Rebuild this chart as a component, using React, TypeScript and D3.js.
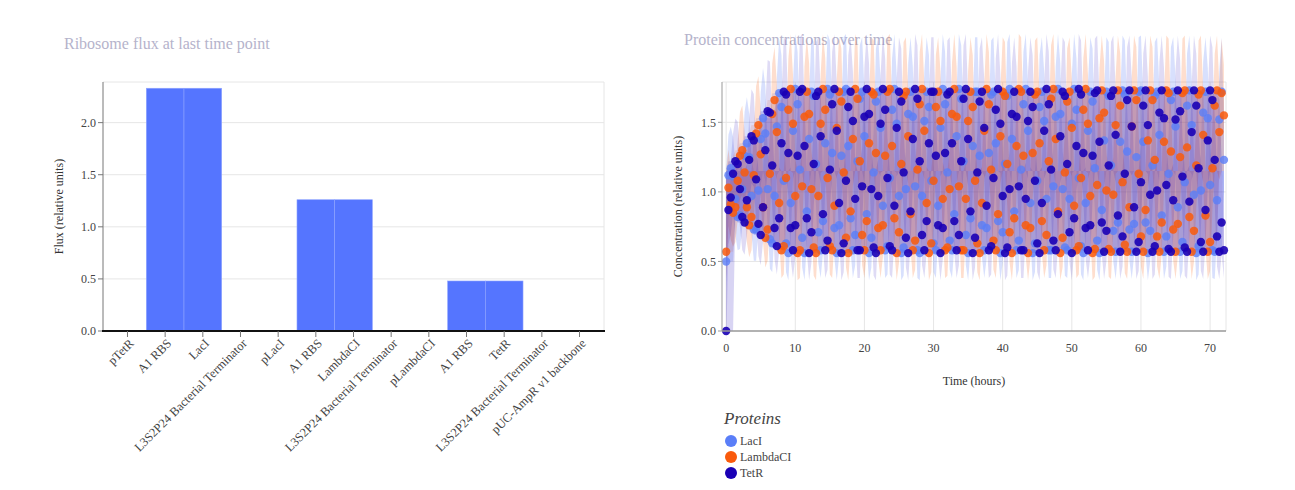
import React from "react";
import * as d3 from "d3";

// left panel: ribosome flux per part
const partLabels = [
  "pTetR",
  "A1 RBS",
  "LacI",
  "L3S2P24 Bacterial Terminator",
  "pLacI",
  "A1 RBS",
  "LambdaCI",
  "L3S2P24 Bacterial Terminator",
  "pLambdaCI",
  "A1 RBS",
  "TetR",
  "L3S2P24 Bacterial Terminator",
  "pUC-AmpR v1 backbone",
];
const fluxValues = [0, 2.33, 2.33, 0, 0, 1.26, 1.26, 0, 0, 0.48, 0.48, 0, 0];
const fluxTicks = [0, 0.5, 1, 1.5, 2];

// right panel: protein concentrations, one sample every 20 min from 0 to 72 h
const timeStep = 1 / 3;
const lacI = [
  0.5, 1.12, 1.17, 1.11, 0.95, 0.82, 0.83, 1.02, 1.26, 1.35, 1.25, 0.97, 0.73, 0.73, 1.01, 1.38,
  1.53, 1.42, 1.02, 0.66, 0.63, 0.97, 1.47, 1.71, 1.61, 1.08, 0.63, 0.56, 0.92, 1.44, 1.74, 1.63,
  1.16, 0.67, 0.56, 0.86, 1.38, 1.72, 1.69, 1.2, 0.71, 0.58, 0.79, 1.35, 1.74, 1.7, 1.28, 0.74,
  0.56, 0.76, 1.26, 1.72, 1.74, 1.33, 0.81, 0.58, 0.69, 1.22, 1.67, 1.72, 1.4, 0.84, 0.56, 0.67,
  1.14, 1.65, 1.72, 1.46, 0.9, 0.58, 0.61, 1.1, 1.59, 1.74, 1.49, 0.97, 0.56, 0.6, 1.02, 1.56,
  1.72, 1.54, 1.04, 0.58, 0.56, 0.97, 1.51, 1.72, 1.61, 1.08, 0.63, 0.58, 0.9, 1.46, 1.74, 1.63,
  1.14, 0.65, 0.58, 0.84, 1.4, 1.74, 1.67, 1.22, 0.69, 0.56, 0.81, 1.33, 1.72, 1.72, 1.26, 0.76,
  0.58, 0.74, 1.28, 1.7, 1.72, 1.35, 0.79, 0.56, 0.71, 1.2, 1.69, 1.74, 1.38, 0.86, 0.58, 0.65,
  1.16, 1.63, 1.74, 1.44, 0.92, 0.56, 0.63, 1.08, 1.61, 1.72, 1.51, 0.95, 0.58, 0.58, 1.04, 1.54,
  1.74, 1.56, 1.02, 0.6, 0.58, 0.95, 1.49, 1.74, 1.59, 1.1, 0.61, 0.56, 0.92, 1.44, 1.72, 1.65,
  1.17, 0.65, 0.56, 0.87, 1.37, 1.72, 1.69, 1.19, 0.72, 0.57, 0.78, 1.36, 1.73, 1.7, 1.29, 0.73,
  0.57, 0.77, 1.25, 1.72, 1.73, 1.36, 0.78, 0.56, 0.72, 1.19, 1.69, 1.72, 1.41, 0.83, 0.57, 0.68,
  1.13, 1.66, 1.72, 1.47, 0.89, 0.57, 0.64, 1.07, 1.62, 1.73, 1.48, 0.98, 0.56, 0.61, 1.01, 1.57,
  1.72, 1.53, 1.05, 0.58, 0.57, 0.94, 1.52, 1.72, 1.23,
];
const lambdaCI = [
  0.57, 1.03, 0.91, 0.85, 0.89, 1.08, 1.26, 1.3, 1.14, 0.89, 0.76, 0.82, 1.12, 1.42, 1.48, 1.27,
  0.89, 0.67, 0.73, 1.13, 1.56, 1.66, 1.43, 0.92, 0.58, 0.61, 1.1, 1.59, 1.74, 1.49, 0.97, 0.56,
  0.58, 1.04, 1.54, 1.72, 1.56, 1.02, 0.6, 0.56, 0.97, 1.49, 1.74, 1.59, 1.1, 0.61, 0.58, 0.9,
  1.46, 1.72, 1.65, 1.14, 0.67, 0.56, 0.86, 1.38, 1.74, 1.67, 1.22, 0.69, 0.58, 0.79, 1.35, 1.72,
  1.7, 1.28, 0.74, 0.58, 0.76, 1.26, 1.72, 1.74, 1.33, 0.81, 0.56, 0.71, 1.2, 1.69, 1.72, 1.4,
  0.84, 0.58, 0.65, 1.16, 1.63, 1.74, 1.44, 0.92, 0.56, 0.63, 1.08, 1.61, 1.72, 1.51, 0.95, 0.58,
  0.6, 1.02, 1.56, 1.74, 1.54, 1.04, 0.58, 0.58, 0.95, 1.51, 1.72, 1.61, 1.08, 0.63, 0.56, 0.92,
  1.44, 1.74, 1.63, 1.16, 0.65, 0.58, 0.84, 1.4, 1.72, 1.69, 1.2, 0.71, 0.56, 0.81, 1.33, 1.74,
  1.72, 1.26, 0.76, 0.56, 0.74, 1.28, 1.7, 1.72, 1.35, 0.79, 0.58, 0.69, 1.22, 1.67, 1.74, 1.38,
  0.86, 0.56, 0.67, 1.14, 1.65, 1.72, 1.46, 0.9, 0.58, 0.61, 1.1, 1.59, 1.74, 1.49, 0.97, 0.56,
  0.59, 1.05, 1.53, 1.73, 1.57, 1.01, 0.59, 0.57, 0.98, 1.48, 1.73, 1.62, 1.07, 0.62, 0.57, 0.89,
  1.47, 1.73, 1.66, 1.13, 0.68, 0.57, 0.87, 1.37, 1.73, 1.66, 1.23, 0.68, 0.57, 0.78, 1.36, 1.73,
  1.71, 1.29, 0.73, 0.57, 0.77, 1.25, 1.71, 1.73, 1.32, 0.82, 0.57, 0.72, 1.19, 1.7, 1.73, 1.41,
  0.83, 0.57, 0.64, 1.17, 1.62, 1.73, 1.43, 1.71, 1.55,
];
const tetR = [
  0, 0.87, 0.96, 1.13, 1.22, 1.2, 1.02, 0.82, 0.78, 0.94, 1.23, 1.4, 1.37, 1.09, 0.77, 0.69,
  0.89, 1.3, 1.58, 1.57, 1.19, 0.74, 0.61, 0.81, 1.35, 1.72, 1.7, 1.28, 0.74, 0.58, 0.76, 1.26,
  1.72, 1.74, 1.33, 0.81, 0.56, 0.71, 1.2, 1.69, 1.72, 1.4, 0.84, 0.58, 0.65, 1.16, 1.63, 1.74,
  1.44, 0.92, 0.56, 0.63, 1.08, 1.61, 1.72, 1.51, 0.95, 0.58, 0.58, 1.04, 1.54, 1.74, 1.56, 1.02,
  0.6, 0.56, 0.97, 1.49, 1.74, 1.59, 1.1, 0.61, 0.58, 0.9, 1.46, 1.72, 1.65, 1.14, 0.67, 0.56,
  0.86, 1.38, 1.74, 1.67, 1.22, 0.69, 0.58, 0.79, 1.35, 1.72, 1.72, 1.26, 0.76, 0.56, 0.74, 1.28,
  1.7, 1.72, 1.35, 0.79, 0.58, 0.69, 1.22, 1.67, 1.74, 1.38, 0.86, 0.56, 0.67, 1.14, 1.65, 1.72,
  1.46, 0.9, 0.58, 0.61, 1.1, 1.59, 1.74, 1.49, 0.97, 0.56, 0.6, 1.02, 1.56, 1.72, 1.54, 1.04,
  0.58, 0.58, 0.95, 1.51, 1.72, 1.61, 1.08, 0.63, 0.56, 0.92, 1.44, 1.74, 1.63, 1.16, 0.65, 0.58,
  0.84, 1.4, 1.72, 1.69, 1.2, 0.71, 0.56, 0.81, 1.33, 1.74, 1.7, 1.28, 0.74, 0.58, 0.76, 1.26,
  1.71, 1.73, 1.36, 0.78, 0.57, 0.72, 1.19, 1.69, 1.73, 1.41, 0.83, 0.57, 0.68, 1.13, 1.66, 1.73,
  1.47, 0.89, 0.57, 0.64, 1.07, 1.62, 1.73, 1.48, 0.98, 0.57, 0.61, 1.01, 1.57, 1.73, 1.53, 1.05,
  0.59, 0.57, 0.94, 1.52, 1.73, 1.58, 1.11, 0.6, 0.57, 0.93, 1.43, 1.73, 1.62, 1.17, 0.64, 0.57,
  0.87, 1.37, 1.73, 1.66, 1.23, 0.68, 0.57, 0.78, 0.58,
];
const proteinNames = ["LacI", "LambdaCI", "TetR"];
const proteinSeries = [lacI, lambdaCI, tetR];
const proteinColors = ["#5a7ef8", "#f95a0c", "#1a00b5"];
const coreOpacity = [0.2, 0.13, 0.17];
const spikeOpacity = [0.24, 0.2, 0.14];
const dotOpacity = [0.8, 0.85, 0.9];
// spread of the shaded band around each sample (absolute + relative part)
const bandAbs = 0.1;
const bandRel = 0.17;
const bandMid = 1.15;
const concTicks = [0, 0.5, 1, 1.5];
const timeTicks = [0, 10, 20, 30, 40, 50, 60, 70];

const font = "'Liberation Serif', 'Times New Roman', serif";

const FluxChart = () => {
  const left = 103, right = 604, top = 82, bottom = 331;
  const x = d3
    .scaleBand<number>()
    .domain(d3.range(partLabels.length))
    .range([left, right])
    .paddingInner(0)
    .paddingOuter(0.15);
  const y = d3.scaleLinear().domain([0, 2.39]).range([bottom, top]);

  return (
    <g fontFamily={font}>
      <text x={64} y={49} fontSize={16} fill="#b5b3cb">
        Ribosome flux at last time point
      </text>
      {fluxTicks.slice(1).map((t) => (
        <line key={t} x1={left} x2={right} y1={y(t)} y2={y(t)} stroke="#e6e6e6" />
      ))}
      <line x1={left} x2={right} y1={top} y2={top} stroke="#e6e6e6" />
      <line x1={right} x2={right} y1={top} y2={bottom} stroke="#e6e6e6" />
      {fluxValues.map((v, i) =>
        v > 0 ? (
          <rect
            key={i}
            x={x(i)}
            y={y(v)}
            width={x.bandwidth()}
            height={bottom - y(v)}
            fill="#5575ff"
            stroke="#8ea3ff"
            strokeWidth={0.6}
          />
        ) : null,
      )}
      <line x1={left} x2={left} y1={top} y2={bottom} stroke="#777" />
      {fluxTicks.map((t) => (
        <g key={t}>
          <line x1={left - 5} x2={left} y1={y(t)} y2={y(t)} stroke="#777" />
          <text x={left - 7} y={y(t)} dy="0.35em" textAnchor="end" fontSize={12} fill="#444">
            {t.toFixed(1)}
          </text>
        </g>
      ))}
      <line x1={left - 1} x2={right + 1} y1={bottom} y2={bottom} stroke="#111" strokeWidth={2} />
      {partLabels.map((p, i) => {
        const cx = (x(i) as number) + x.bandwidth() / 2;
        return (
          <g key={i}>
            <line x1={cx} x2={cx} y1={bottom} y2={bottom + 6} stroke="#777" />
            <text
              transform={`translate(${cx + 4},${bottom + 10}) rotate(-45)`}
              textAnchor="end"
              dy="0.35em"
              fontSize={12.5}
              fill="#444"
            >
              {p}
            </text>
          </g>
        );
      })}
      <text
        transform={`translate(63,${(top + bottom) / 2}) rotate(-90)`}
        textAnchor="middle"
        fontSize={12}
        fill="#333"
      >
        Flux (relative units)
      </text>
    </g>
  );
};

const ConcChart = () => {
  const left = 722, right = 1226, top = 82, bottom = 331;
  const x = d3.scaleLinear().domain([-0.6, 72.3]).range([left, right]);
  const y = d3.scaleLinear().domain([0, 1.79]).range([bottom, top]);
  const spread = (v: number) => bandAbs + bandRel * v;
  // solid core of the band: range of the neighbouring samples
  const near = (s: number[], i: number) => s.slice(Math.max(0, i - 3), i + 4);
  const core = (s: number[]) =>
    d3
      .area<number>()
      .x((_, i) => x(i * timeStep))
      .y0((_, i) => y(d3.min(near(s, i)) as number))
      .y1((_, i) => y(d3.max(near(s, i)) as number))(s);
  // spiky outer part: sample ± spread, drawn out from the mid level
  const upper = d3
    .area<number>()
    .x((_, i) => x(i * timeStep))
    .y0(y(bandMid))
    .y1((v) => y(Math.max(bandMid, v + spread(v))));
  const lower = d3
    .area<number>()
    .x((_, i) => x(i * timeStep))
    .y0((v) => y(Math.min(bandMid, v - spread(v))))
    .y1(y(bandMid));

  return (
    <g fontFamily={font}>
      <text x={684} y={45} fontSize={16} fill="#b5b3cb">
        Protein concentrations over time
      </text>
      {timeTicks.map((t) => (
        <line key={t} x1={x(t)} x2={x(t)} y1={top} y2={bottom} stroke="#e6e6e6" />
      ))}
      {concTicks.slice(1).map((t) => (
        <line key={t} x1={left} x2={right} y1={y(t)} y2={y(t)} stroke="#e6e6e6" />
      ))}
      <line x1={left} x2={right} y1={top} y2={top} stroke="#e6e6e6" />
      <line x1={right} x2={right} y1={top} y2={bottom} stroke="#e6e6e6" />
      {proteinSeries.map((s, k) => (
        <g key={k} fill={proteinColors[k]}>
          <path d={core(s) ?? ""} fillOpacity={coreOpacity[k]} />
          <path d={upper(s) ?? ""} fillOpacity={spikeOpacity[k]} />
          <path d={lower(s) ?? ""} fillOpacity={spikeOpacity[k]} />
        </g>
      ))}
      {proteinSeries.map((s, k) => (
        <g key={k} fill={proteinColors[k]} fillOpacity={dotOpacity[k]}>
          {s.map((v, i) => (
            <circle key={i} cx={x(i * timeStep)} cy={y(v)} r={4.2} />
          ))}
        </g>
      ))}
      <line x1={left} x2={left} y1={top} y2={bottom} stroke="#999" />
      <line x1={left} x2={right} y1={bottom} y2={bottom} stroke="#999" strokeWidth={1.5} />
      {concTicks.map((t) => (
        <g key={t}>
          <line x1={left - 4} x2={left} y1={y(t)} y2={y(t)} stroke="#999" />
          <text x={left - 6} y={y(t)} dy="0.35em" textAnchor="end" fontSize={12} fill="#444">
            {t.toFixed(1)}
          </text>
        </g>
      ))}
      {timeTicks.map((t) => (
        <text key={t} x={x(t)} y={bottom + 17} dy="0.35em" textAnchor="middle" fontSize={12} fill="#444">
          {t}
        </text>
      ))}
      <text x={974} y={385} textAnchor="middle" fontSize={12} fill="#333">
        Time (hours)
      </text>
      <text
        transform={`translate(682,${(top + bottom) / 2}) rotate(-90)`}
        textAnchor="middle"
        fontSize={12}
        fill="#333"
      >
        Concentration (relative units)
      </text>
      <text x={724} y={424} fontSize={17} fontStyle="italic" fill="#444">
        Proteins
      </text>
      {proteinNames.map((n, k) => (
        <g key={n} transform={`translate(731,${441 + k * 16})`}>
          <circle r={6} fill={proteinColors[k]} />
          <text x={9} dy="0.35em" fontSize={12} fill="#444">
            {n}
          </text>
        </g>
      ))}
    </g>
  );
};

export default function App() {
  return (
    <svg
      width={1295}
      height={490}
      style={{ position: "absolute", left: 0, top: 0, background: "#fff" }}
    >
      <FluxChart />
      <ConcChart />
    </svg>
  );
}
